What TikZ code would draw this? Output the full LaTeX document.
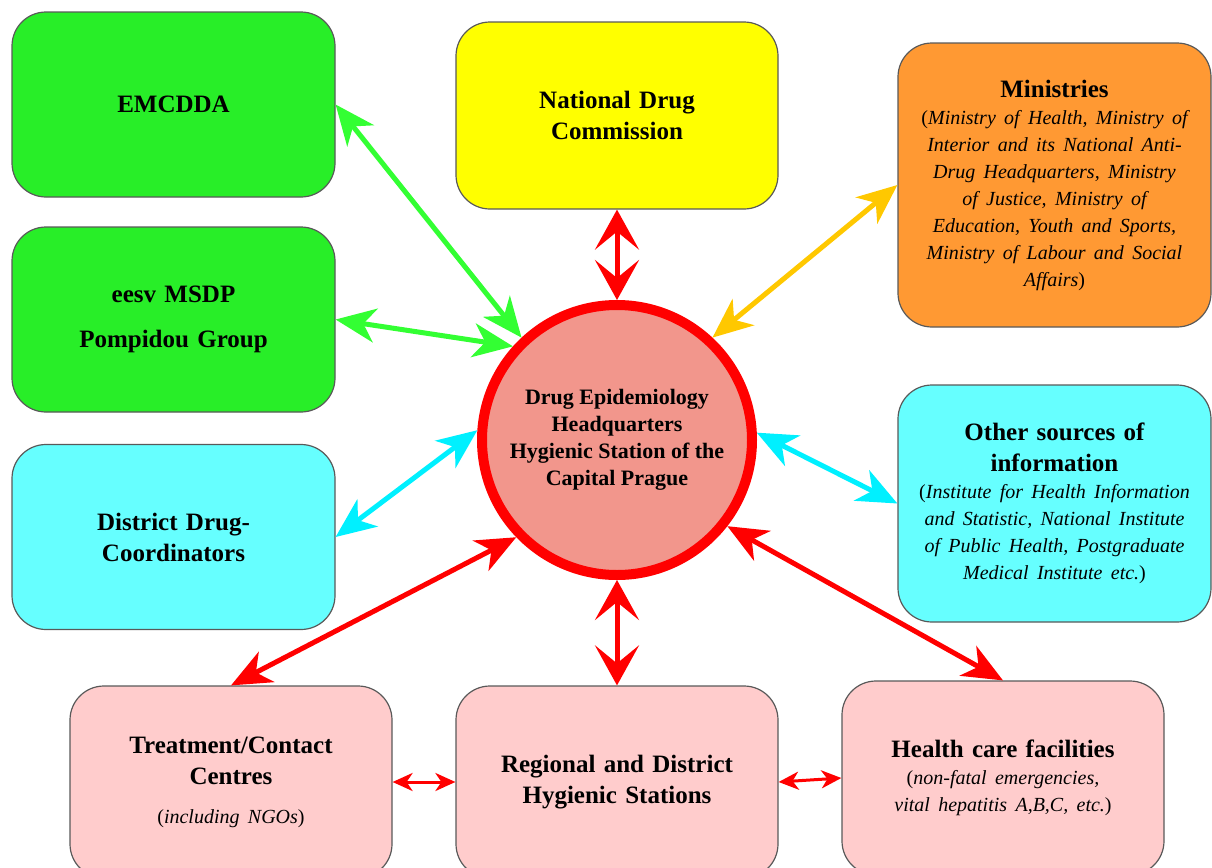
\documentclass[tikz,border=0pt]{standalone}
\usepackage{fontspec}
\setmainfont{Liberation Serif}
\usetikzlibrary{arrows.meta}

\definecolor{boxgreen}{RGB}{40,238,40}
\definecolor{boxyellow}{RGB}{255,255,0}
\definecolor{boxorange}{RGB}{255,153,51}
\definecolor{boxcyan}{RGB}{102,255,255}
\definecolor{boxpink}{RGB}{255,204,204}
\definecolor{hubfill}{RGB}{242,150,140}
\definecolor{argreen}{RGB}{51,255,51}
\definecolor{arcyan}{RGB}{0,240,255}
\definecolor{aryellow}{RGB}{255,200,0}
\definecolor{arred}{RGB}{255,0,0}

\newcommand{\subtxt}[1]{\par{\normalfont\itshape\fontsize{10}{13.5}\selectfont #1\par}}

\begin{document}
\begin{tikzpicture}[x=0.5pt,y=-0.5pt,
  box/.style={draw=black!65,line width=0.6pt,rounded corners=17pt,align=center,
    inner sep=3pt,font=\bfseries\fontsize{12.5}{15.5}\selectfont},
  arr/.style={line width=2.5pt,
    {Stealth[length=20pt,width=17pt,inset=6pt]}-{Stealth[length=20pt,width=17pt,inset=6pt]}},
  varr/.style={line width=2.5pt,color=arred,
    {Stealth[length=20pt,width=22pt,inset=9pt]}-{Stealth[length=20pt,width=22pt,inset=9pt]}},
  harr/.style={line width=1.5pt,color=arred,
    {Stealth[length=10pt,width=9pt,inset=3pt]}-{Stealth[length=10pt,width=9pt,inset=3pt]}}]
\clip (0,0) rectangle (1212,868);

% left column
\node[box,fill=boxgreen,minimum width=161.5pt,minimum height=92.5pt,text width=150pt]
  (emcdda) at (173.5,104.5) {EMCDDA};
\node[box,fill=boxgreen,minimum width=161.5pt,minimum height=92.5pt,text width=150pt]
  (pompidou) at (173.5,319.5) {eesv MSDP\\[7pt]Pompidou Group};
\node[box,fill=boxcyan,minimum width=161.5pt,minimum height=92.5pt,text width=150pt]
  (district) at (173.5,537) {District Drug-\\Coordinators};

% top and right
\node[box,fill=boxyellow,minimum width=161pt,minimum height=93.5pt,text width=150pt]
  (national) at (617,115.5) {National Drug\\Commission};
\node[box,fill=boxorange,minimum width=156.5pt,minimum height=142pt,text width=152pt,inner xsep=1pt]
  (ministries) at (1054.5,185) {Ministries
  \subtxt{\textup{(}Ministry of Health, Ministry of\\Interior and its National Anti-\\Drug Headquarters, Ministry\\of Justice, Ministry of\\Education, Youth and Sports,\\Ministry of Labour and Social\\Affairs\textup{)}}};
\node[box,fill=boxcyan,minimum width=156.5pt,minimum height=118.5pt,text width=154pt,inner xsep=1pt]
  (other) at (1054.5,503.5) {Other sources of\\information
  \subtxt{\textup{(}Institute for Health Information\\and Statistic, National Institute\\of Public Health, Postgraduate\\Medical Institute etc.\textup{)}}};

% bottom row
\node[box,fill=boxpink,minimum width=161pt,minimum height=96pt,text width=150pt]
  (treatment) at (231,782) {Treatment/Contact\\Centres
  \subtxt{\vspace{6pt}\textup{(}including NGOs\textup{)}}};
\node[box,fill=boxpink,minimum width=161pt,minimum height=96pt,text width=150pt]
  (regional) at (617,782) {Regional and District\\Hygienic Stations};
\node[box,fill=boxpink,minimum width=161pt,minimum height=97pt,text width=150pt]
  (health) at (1003,778) {Health care facilities
  \subtxt{\textup{(}non-fatal emergencies,\\vital hepatitis A,B,C, etc.\textup{)}}};

% centre
\node[circle,draw=arred,line width=5pt,fill=hubfill,minimum size=135pt,align=center,
  font=\bfseries\fontsize{11}{13.5}\selectfont] (hub) at (617,440)
  {Drug Epidemiology\\Headquarters\\Hygienic Station of the\\Capital Prague};

% connections
\draw[arr,color=argreen] (emcdda.east) -- (hub.133);
\draw[arr,color=argreen] (pompidou.east) -- (hub.138);
\draw[arr,color=arcyan] (district.east) -- (hub.176);
\draw[varr] (national.south) -- (hub.north);
\draw[arr,color=aryellow] (ministries.west) -- (hub.47);
\draw[arr,color=arcyan] (other.west) -- (hub.3);
\draw[arr,color=arred] (treatment.north) -- (hub.224);
\draw[varr] (regional.north) -- (hub.south);
\draw[arr,color=arred] (health.north) -- (hub.322);
\draw[harr] (treatment.east) -- (regional.west);
\draw[harr] (regional.east) -- (health.west);
\end{tikzpicture}
\end{document}
